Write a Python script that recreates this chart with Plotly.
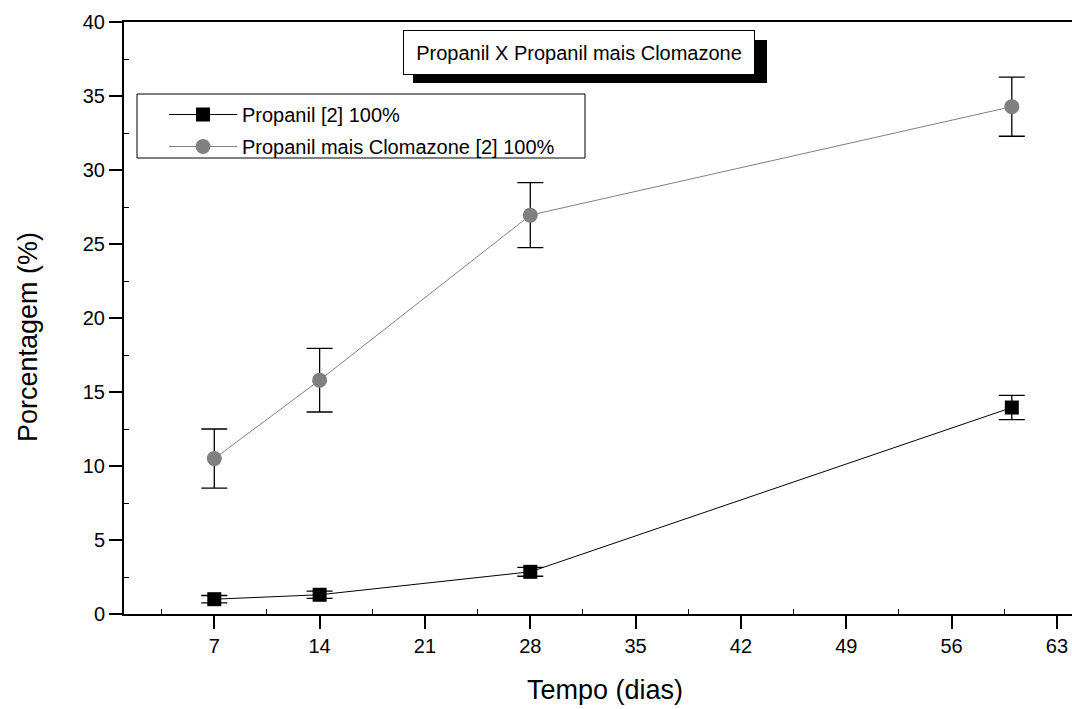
import plotly.graph_objects as go

# Data
days = [7, 14, 28, 60]
propanil = [1.0, 1.3, 2.85, 13.95]
propanil_err = [0.25, 0.25, 0.3, 0.82]
mix = [10.5, 15.8, 26.95, 34.28]
mix_err = [2.0, 2.15, 2.2, 2.0]

x_ticks = [7, 14, 21, 28, 35, 42, 49, 56, 63]
y_ticks = [0, 5, 10, 15, 20, 25, 30, 35, 40]

W, H = 1072, 709
L, R, T, B = 124, 0, 22, 95
PW, PH = W - L - R, H - T - B

def px(x):
    return (x - L) / PW

def py(y):
    return (H - B - y) / PH

fig = go.Figure()

fig.add_trace(go.Scatter(
    x=days, y=propanil, mode="lines+markers", name="Propanil [2] 100%",
    legendgroup="a",
    line=dict(color="black", width=1),
    marker=dict(symbol="square", size=14, color="black"),
    error_y=dict(type="data", array=propanil_err, color="black", thickness=1.3, width=13),
))
fig.add_trace(go.Scatter(
    x=days, y=mix, mode="lines+markers", name="Propanil mais Clomazone [2] 100%",
    legendgroup="b",
    line=dict(color="#808080", width=1),
    marker=dict(symbol="circle", size=15, color="#808080"),
    error_y=dict(type="data", array=mix_err, color="black", thickness=1.3, width=13),
))

regular = "Liberation Sans, Arial, sans-serif"

fig.update_layout(
    width=W, height=H,
    margin=dict(l=L, r=R, t=T, b=B, pad=0),
    paper_bgcolor="white", plot_bgcolor="white",
    font=dict(family=regular, color="black", size=20),
    showlegend=True,
    legend=dict(
        x=px(164), y=py(95), xanchor="left", yanchor="top",
        bgcolor="rgba(0,0,0,0)", borderwidth=0,
        font=dict(family=regular, size=20, color="black"),
        itemwidth=68, tracegroupgap=3,
    ),
    xaxis=dict(
        range=[1, 64], tickvals=x_ticks, ticktext=[str(v) for v in x_ticks],
        showgrid=False, zeroline=False,
        showline=True, linecolor="black", linewidth=2, mirror=True,
        ticks="outside", ticklen=13, tickwidth=2, tickcolor="black",
        tickfont=dict(size=20, family=regular),
        minor=dict(ticks="inside", ticklen=5, tickwidth=1, tickcolor="black", tick0=3.5, dtick=7),
    ),
    yaxis=dict(
        range=[0, 40], tickvals=y_ticks, ticktext=[str(v) for v in y_ticks],
        showgrid=False, zeroline=False,
        showline=True, linecolor="black", linewidth=2,
        ticks="outside", ticklen=13, tickwidth=2, tickcolor="black",
        tickfont=dict(size=20, family=regular),
        minor=dict(ticks="inside", ticklen=5, tickwidth=1, tickcolor="black", tick0=2.5, dtick=5),
    ),
)

# legend frame
fig.add_shape(type="rect", xref="paper", yref="paper",
              x0=px(137), x1=px(585), y0=py(94), y1=py(158),
              fillcolor="white", line=dict(color="black", width=1), layer="below")

# axis titles
fig.add_annotation(text="Tempo (dias)", xref="paper", yref="paper",
                   x=px(605), y=py(690), xanchor="center", yanchor="middle",
                   showarrow=False, font=dict(size=27, family=regular))
fig.add_annotation(text="Porcentagem (%)", xref="paper", yref="paper",
                   x=px(28), y=py(337), xanchor="center", yanchor="middle",
                   textangle=-90, showarrow=False, font=dict(size=27, family=regular))

# title box with drop shadow
fig.add_shape(type="rect", xref="paper", yref="paper",
              x0=px(413), x1=px(767), y0=py(40), y1=py(83),
              fillcolor="black", line=dict(width=0), layer="above")
fig.add_annotation(text="Propanil X Propanil mais Clomazone", xref="paper", yref="paper",
                   x=px(579), y=py(52.5), xanchor="center", yanchor="middle",
                   showarrow=False, bgcolor="white", bordercolor="black", borderwidth=1,
                   borderpad=0, width=350, height=43,
                   font=dict(size=20, family=regular))

fig.write_html("out.html")
